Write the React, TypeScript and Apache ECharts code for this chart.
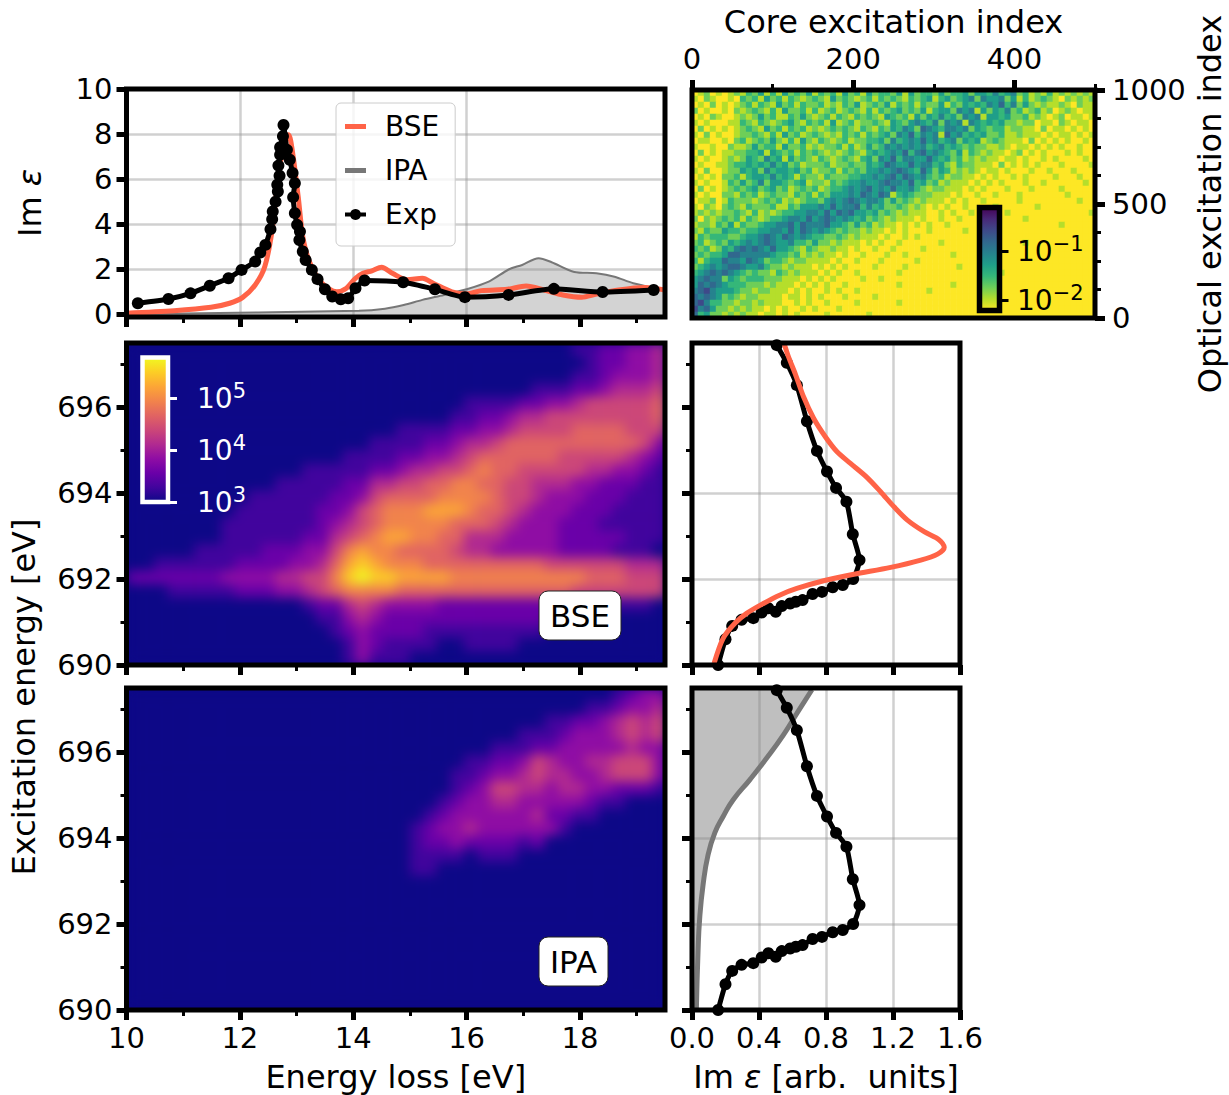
import React, { useEffect, useRef } from "react";
import * as echarts from "echarts";

const FONT = "DejaVu Sans";
const RED = "#ff6347";
const GREY = "#777777";
const GRIDC = "rgba(150,150,150,0.45)";
const PLASMA = ["#0d0887", "#41049d", "#6a00a8", "#8f0da4", "#b12a90", "#cc4778", "#e16462", "#f2844b", "#fca636", "#fcce25", "#f0f921"];
const VIRIDIS_R = ["#fde725", "#b5de2b", "#6ece58", "#35b779", "#1f9e89", "#26828e", "#31688e", "#3e4989", "#482878", "#440154"];

// Spectra: [energy loss, Im eps]
const expTop: number[][] = [[10.2,0.49],[10.74,0.68],[11.13,0.93],[11.47,1.27],[11.8,1.6],[12.03,1.97],[12.27,2.34],[12.36,2.74],[12.45,3.08],[12.54,3.78],[12.57,4.22],[12.58,4.56],[12.63,5.0],[12.67,5.45],[12.66,5.75],[12.7,6.15],[12.68,6.6],[12.71,7.08],[12.71,7.42],[12.76,7.9],[12.77,8.4],[12.83,7.3],[12.88,6.86],[12.93,6.27],[12.97,5.82],[12.94,5.2],[12.97,4.49],[13.01,3.97],[13.06,3.67],[13.05,3.3],[13.11,2.79],[13.16,2.41],[13.27,1.97],[13.37,1.56],[13.5,1.11],[13.63,0.79],[13.78,0.67],[13.91,0.71],[14.04,1.16],[14.2,1.5],[14.88,1.42],[15.44,1.11],[15.97,0.76],[16.74,0.86],[17.54,1.13],[18.4,0.99],[19.3,1.08]];
const bseTop: number[][] = [[10,0.05],[10.84,0.16],[11.49,0.31],[11.82,0.49],[12.05,0.75],[12.27,1.3],[12.44,2.12],[12.57,3.75],[12.67,5.97],[12.76,7.3],[12.86,7.97],[12.94,7.0],[13.03,5.2],[13.12,3.3],[13.25,2.2],[13.45,1.38],[13.71,1.0],[13.88,1.16],[14.04,1.6],[14.17,1.82],[14.33,1.93],[14.5,2.09],[14.69,1.82],[14.95,1.53],[15.22,1.6],[15.41,1.38],[15.74,1.0],[16,0.9],[16.26,1.05],[16.72,1.11],[17.05,1.26],[17.37,1.08],[17.7,0.86],[18.03,0.76],[18.29,0.9],[18.68,1.08],[19.14,1.19],[19.5,1.08]];
const ipaTop: number[][] = [[10,0.0],[14.1,0.16],[14.56,0.25],[14.89,0.41],[15.22,0.64],[15.6,0.86],[16,1.11],[16.39,1.45],[16.75,2.0],[16.98,2.19],[17.27,2.49],[17.5,2.31],[17.9,1.88],[18.29,1.82],[18.61,1.67],[18.94,1.38],[19.5,1.08]];

// Spectra: [Im eps, excitation energy]
const expSide: number[][] = [[0.156,690],[0.2,690.6],[0.24,690.91],[0.296,691.05],[0.366,691.09],[0.416,691.22],[0.456,691.32],[0.5,691.24],[0.536,691.37],[0.586,691.43],[0.62,691.47],[0.66,691.51],[0.72,691.65],[0.776,691.7],[0.84,691.81],[0.9,691.86],[0.962,692.0],[1.0,692.44],[0.96,693.04],[0.922,693.8],[0.86,694.12],[0.806,694.5],[0.746,694.98],[0.686,695.67],[0.626,696.51],[0.566,697.03],[0.506,697.44]];
const bseSide: number[][] = [[0.132,690.04],[0.186,690.62],[0.256,690.97],[0.326,691.2],[0.426,691.43],[0.526,691.63],[0.626,691.78],[0.786,691.96],[0.966,692.11],[1.186,692.27],[1.366,692.44],[1.466,692.58],[1.506,692.74],[1.476,692.91],[1.386,693.1],[1.286,693.37],[1.206,693.68],[1.126,694.03],[1.046,694.36],[0.946,694.69],[0.866,694.96],[0.796,695.31],[0.726,695.74],[0.666,696.24],[0.616,696.78],[0.576,697.17],[0.55,697.48]];
const ipaSide: number[][] = [[0.026,690],[0.036,691.36],[0.046,692.14],[0.066,692.91],[0.096,693.61],[0.136,694.12],[0.186,694.5],[0.246,694.89],[0.346,695.36],[0.446,695.86],[0.546,696.4],[0.626,696.9],[0.716,697.45]];

// Maps: one string per row, top row first; each character is a colour level on the log scale (a = 10).
const bseRows: string[] = [
"0000000000000000000000000000000001122334",
"0000000000000000000000000000000000122334",
"0000000000000000000000000000000001123334",
"0000000000000000000000000000001112234445",
"0000000000000000000000000111122334555556",
"0000000000000000000000001122344555555556",
"0000000000000000000011112233455556666555",
"0000000000000000001111223445666666666653",
"0000000000000000111122334566666655555432",
"0000000000000111112234455676655555443321",
"0000000000011111224455667766554443322211",
"0000000001111112235666677776554333222111",
"0000000011111122356777888766543332221111",
"0000000111111123456777776665433322211111",
"0000000111111224567887766444333322222111",
"0000011111222335787766665443333322221110",
"0011111122223346898777666666666555555444",
"22222223333445579a9988887777777777666555",
"0001111122233456777766666666666665555555",
"0000000000000122454333322222222222221110",
"0000000000000011343222222222222111100000",
"0000000000000001232222111111111000000000",
"0000000000000000132111100111100000000000",
"0000000000000000131110000000000000000000",
];
const ipaRows: string[] = [
"0000000000000000000000000000000000001233",
"0000000000000000000000000000000000112334",
"0000000000000000000000000000000112234545",
"0000000000000000000000000000011123334545",
"0000000000000000000000000001112233333433",
"0000000000000000000000000112235433445553",
"0000000000000000000000001123345443345553",
"0000000000000000000000001235544344332221",
"0000000000000000000000012334433333211000",
"0000000000000000000000123333334221100000",
"0000000000000000000001233433333310000000",
"0000000000000000000001223222212000000000",
"0000000000000000000001111011100000000000",
"0000000000000000000001100000000000000000",
"0000000000000000000000000000000000000000",
"0000000000000000000000000000000000000000",
"0000000000000000000000000000000000000000",
"0000000000000000000000000000000000000000",
"0000000000000000000000000000000000000000",
"0000000000000000000000000000000000000000",
"0000000000000000000000000000000000000000",
"0000000000000000000000000000000000000000",
"0000000000000000000000000000000000000000",
"0000000000000000000000000000000000000000",
];
const CORE_COLS = 67;
const coreRows: string[] = [
"0120101213241314232413231423142332414233242334244353452312131212121",
"1021001032314231321232142321231323213234134234525445241312321021212",
"0102010123132142313223121324123241323132241324343546352421211210211",
"2010010212321314223131231232131323423241344254514243523123120121011",
"0102100121242311324212313213232143231424353425451443422312101201101",
"1010001132132123421323141231223214324543525451543434221220110210110",
"0201010123214231323121232321321324354265435545243233122110201101010",
"1020100122321314231232121323132342546354516453434223112111010110101",
"0110010231232421314213212312233425345464534524341232111020101010010",
"1001002112423314223121223131242354545453453432322112101101010100100",
"0201011223341432313232121232134345463564543241321211012010100010100",
"1010012124325341423213212321342546355446434231212110110100101000010",
"0100112334343534231222312232243465446455342132211102010101000100001",
"1020012243425344342312231323244545654364243121210110100010010001000",
"0101022313443534313221322233445456465453231221101010010100001000100",
"1010013242352443234122132344544565546342312111010101000100100000010",
"0201012323423423123231233454564546445321221110101000100010000100000",
"1010022132312322132313244454654651343222111010010010001000000010000",
"0112013222123231212332454565455424232121110101001000001000000000100",
"1021023213222311324445464556353422321210101001000010000001000000000",
"1212122321312123344554646564434232121110010100100000100000000000001",
"2021232313212334554645654543423212111010010010000000000100000000000",
"1221324132234455646555644324231211010101001000001000000000000100000",
"2132243323344554646545432322121101010001000001000010000000000000000",
"1323332234456546545433223212111010010100000000000100000000000000000",
"2312324345456544533242212111010100100000010000000000000100000000000",
"3231243565654644321321121101001001000010000000000000000000000000000",
"2323346655555433231212110100100010010000000100000000000000000000000",
"3134465546542332122111101001000100000100000000000000000000000000000",
"2345456654453221211101010100001000010000000010000000000000000000000",
"3456565432322132121110101001000000100000000000000001000000000000000",
"4565524323332221110101010000100100000000000000000000000000000000000",
"4656543332221211101010100100000000100000000100000000000000000000000",
"5675444322122111010100101001000000000001000000000000000000000000000",
"6565423212211110110101000100001000000000000000000000000000000000000",
"6753322122121110010100100001000000100000000000000000000000000000000",
"7564221212110101001010001000000000000000000000000000000000000000000",
"6342212121101101010000100000010000000000000000000000000000000000000",
];

const cells = (rows: string[], nCols: number) =>
  rows.flatMap((row, r) => row.padEnd(nCols, "0").slice(0, nCols).split("").map((ch, c) => [c, r, parseInt(ch, 16)]));
const idx = (n: number) => Array.from({ length: n }, (_, i) => String(i));

// Panel rectangles
const P = {
  top: { left: 126.5, top: 89, width: 538.5, height: 228 },
  core: { left: 692, top: 90, width: 403, height: 228 },
  bse: { left: 126.5, top: 343, width: 538.5, height: 322 },
  ipa: { left: 126.5, top: 688, width: 538.5, height: 322 },
  sideB: { left: 692, top: 343, width: 268, height: 322 },
  sideI: { left: 692, top: 688, width: 268, height: 322 },
};
const grad = (cols: string[]) =>
  new echarts.graphic.LinearGradient(0, 1, 0, 0, cols.map((color, i) => ({ offset: i / (cols.length - 1), color })));

function heatOption(rows: string[]) {
  const n = rows[0].length;
  return {
    animation: false,
    grid: { left: 0, right: 0, top: 0, bottom: 0, outerBoundsMode: "none" },
    xAxis: { type: "category", data: idx(n), show: false },
    yAxis: { type: "category", data: idx(rows.length), show: false, inverse: true },
    visualMap: { show: false, min: 0, max: 10, dimension: 2, inRange: { color: PLASMA } },
    series: [{ type: "heatmap", data: cells(rows, n), progressive: 0, silent: true }],
  };
}

function buildOption() {
  const xAxis: any[] = [];
  const yAxis: any[] = [];
  const grid: any[] = [];
  const series: any[] = [];
  const tick = (v: number[], len: number, w: number, color = "#000") => ({ show: true, customValues: v, length: len, lineStyle: { width: w, color } });
  const labelStyle = { fontFamily: FONT, fontSize: 29, color: "#000" };
  const noLine = { show: false, onZero: false };

  function panel(rect: any, o: any) {
    const g = grid.length;
    grid.push({ show: true, ...rect, outerBoundsMode: "none", backgroundColor: "transparent", borderColor: "#000", borderWidth: 5, z: 5 });
    const xi = xAxis.length;
    const yi = yAxis.length;
    const base = (ax: any) => ({
      gridIndex: g, type: "value", min: ax.min, max: ax.max, position: ax.pos,
      axisLine: noLine,
      axisTick: tick(ax.major, 10, 5),
      axisLabel: ax.labels
        ? { ...labelStyle, customValues: ax.major, margin: ax.margin ?? 14, formatter: ax.fmt ?? ((v: number) => String(v)) }
        : { show: false },
      splitLine: ax.grid
        ? { show: true, lineStyle: { color: GRIDC, width: 2.5 }, showMinLine: false, showMaxLine: false }
        : { show: false },
      name: ax.name, nameLocation: "middle", nameGap: ax.nameGap, nameRotate: ax.nameRotate,
      nameTextStyle: { fontFamily: FONT, fontSize: 32, color: "#000", rich: { i: { fontFamily: FONT, fontSize: 32, fontStyle: "italic", color: "#000" } } },
    });
    const minorOf = (ax: any) => ({
      gridIndex: g, type: "value", min: ax.min, max: ax.max, position: ax.pos,
      axisLine: noLine, axisLabel: { show: false }, splitLine: { show: false },
      axisTick: tick(ax.minor, 6, 3),
    });
    xAxis.push(base(o.x));
    if (o.x.minor) xAxis.push(minorOf(o.x));
    yAxis.push(base(o.y));
    if (o.y.minor) yAxis.push(minorOf(o.y));
    return { g, xi, yi };
  }

  const majorE = [10, 12, 14, 16, 18];
  const minorE = [11, 13, 15, 17, 19];
  const majorB = [690, 692, 694, 696];
  const minorB = [691, 693, 695, 697];
  const majorI = [0, 0.4, 0.8, 1.2, 1.6];

  const a = panel(P.top, {
    x: { min: 10, max: 19.5, pos: "bottom", major: majorE, minor: minorE, grid: true },
    y: { min: -0.12, max: 10, pos: "left", major: [0, 2, 4, 6, 8, 10], labels: true, grid: true, name: "Im {i|ε}", nameGap: 81 },
  });
  const b = panel(P.core, {
    x: { min: 0, max: 500, pos: "top", major: [0, 200, 400], minor: [100, 300, 500], labels: true, margin: 17, name: "Core excitation index", nameGap: 52 },
    y: { min: 0, max: 1000, pos: "right", major: [0, 500, 1000], minor: [125, 250, 375, 625, 750, 875], labels: true, margin: 17, name: "Optical excitation index", nameGap: 99, nameRotate: 90 },
  });
  panel(P.bse, {
    x: { min: 10, max: 19.5, pos: "bottom", major: majorE, minor: minorE },
    y: { min: 690, max: 697.49, pos: "left", major: majorB, minor: minorB, labels: true },
  });
  panel(P.ipa, {
    x: { min: 10, max: 19.5, pos: "bottom", major: majorE, minor: minorE, labels: true, margin: 13, name: "Energy loss [eV]", nameGap: 51 },
    y: { min: 690, max: 697.49, pos: "left", major: majorB, minor: minorB, labels: true },
  });
  const e = panel(P.sideB, {
    x: { min: 0, max: 1.6, pos: "bottom", major: majorI, grid: true },
    y: { min: 690, max: 697.49, pos: "left", major: majorB, minor: minorB, grid: true },
  });
  const f = panel(P.sideI, {
    x: { min: 0, max: 1.6, pos: "bottom", major: majorI, grid: true, labels: true, margin: 13, fmt: (v: number) => v.toFixed(1), name: "Im {i|ε} [arb.  units]", nameGap: 51 },
    y: { min: 690, max: 697.49, pos: "left", major: majorB, minor: minorB, grid: true },
  });

  // Colour bars (axis + gradient)
  const rich = (color: string) => ({
    n: { fontFamily: FONT, fontSize: 28, color, lineHeight: 36 },
    s: { fontFamily: FONT, fontSize: 21, color, verticalAlign: "top", lineHeight: 20 },
  });
  function colorbar(rect: any, cols: string[], color: string, min: number, max: number, vals: number[], names: string[], margin: number, bw: number) {
    const g = grid.length;
    grid.push({ show: true, ...rect, outerBoundsMode: "none", backgroundColor: grad(cols), borderColor: color, borderWidth: bw, z: 10 });
    xAxis.push({ gridIndex: g, type: "value", show: false, min: 0, max: 1, axisLine: { onZero: false } });
    yAxis.push({
      gridIndex: g, type: "value", min, max, position: "right", z: 11,
      axisLine: noLine, splitLine: { show: false },
      axisTick: { show: true, customValues: vals, length: 9, lineStyle: { width: 3, color } },
      axisLabel: {
        customValues: vals, margin, align: "left", rich: rich(color),
        formatter: (v: number) => `{n|10}{s|${names[vals.indexOf(v)]}}`,
      },
    });
  }
  colorbar({ left: 142.5, top: 357.5, width: 25.5, height: 144.5 }, PLASMA, "#fff", 3, 5.78, [3, 4, 5], ["3", "4", "5"], 29, 4.5);
  colorbar({ left: 979.5, top: 207.5, width: 20, height: 103 }, VIRIDIS_R, "#000", -2.217, -0.085, [-2, -1], ["−2", "−1"], 17.5, 5.5);

  // Core-optical map: hidden category axes on the same grid
  const catX = xAxis.length;
  const catY = yAxis.length;
  xAxis.push({ gridIndex: b.g, type: "category", show: false, axisLine: { onZero: false }, data: idx(CORE_COLS) });
  yAxis.push({ gridIndex: b.g, type: "category", show: false, axisLine: { onZero: false }, inverse: true, data: idx(coreRows.length) });
  const heatIndex = series.length;
  series.push({ type: "heatmap", name: "core", xAxisIndex: catX, yAxisIndex: catY, data: cells(coreRows, CORE_COLS), progressive: 0, silent: true, z: 2 });

  // Top panel
  series.push({ type: "line", name: "BSE", xAxisIndex: a.xi, yAxisIndex: a.yi, data: bseTop, smooth: 0.3, symbol: "none", lineStyle: { color: RED, width: 5 }, itemStyle: { color: RED }, z: 3, silent: true });
  series.push({ type: "line", name: "IPA", xAxisIndex: a.xi, yAxisIndex: a.yi, data: ipaTop, smooth: 0.3, symbol: "none", lineStyle: { color: GREY, width: 2 }, itemStyle: { color: GREY }, areaStyle: { color: "rgba(128,128,128,0.5)", origin: "start" }, z: 2, silent: true });
  series.push({ type: "line", name: "Exp", xAxisIndex: a.xi, yAxisIndex: a.yi, data: expTop, smooth: 0.2, symbol: "circle", symbolSize: 12, showSymbol: true, showAllSymbol: true, lineStyle: { color: "#000", width: 5 }, itemStyle: { color: "#000" }, z: 4, silent: true });

  // Side panels
  series.push({ type: "line", name: "Exp profile BSE", xAxisIndex: e.xi, yAxisIndex: e.yi, data: expSide, smooth: 0.2, symbol: "circle", symbolSize: 12, showAllSymbol: true, lineStyle: { color: "#000", width: 5 }, itemStyle: { color: "#000" }, z: 3, silent: true });
  series.push({ type: "line", name: "BSE profile", xAxisIndex: e.xi, yAxisIndex: e.yi, data: bseSide, smooth: 0.3, symbol: "none", lineStyle: { color: RED, width: 5 }, z: 4, silent: true });
  series.push({
    type: "custom", name: "IPA fill", xAxisIndex: f.xi, yAxisIndex: f.yi, data: ipaSide, z: 2, silent: true, clip: true,
    encode: { x: 0, y: 1 },
    renderItem: (p: any, api: any) => {
      if (p.dataIndex !== 0) return null;
      const pts = ipaSide.map((q) => api.coord(q));
      pts.push(api.coord([0, ipaSide[ipaSide.length - 1][1]]), api.coord([0, ipaSide[0][1]]));
      return { type: "polygon", shape: { points: pts }, style: { fill: "rgba(128,128,128,0.5)" } };
    },
  });
  series.push({ type: "line", name: "IPA profile", xAxisIndex: f.xi, yAxisIndex: f.yi, data: ipaSide, smooth: 0.5, symbol: "none", lineStyle: { color: GREY, width: 5 }, z: 3, silent: true });
  series.push({ type: "line", name: "Exp profile IPA", xAxisIndex: f.xi, yAxisIndex: f.yi, data: expSide, smooth: 0.2, symbol: "circle", symbolSize: 12, showAllSymbol: true, lineStyle: { color: "#000", width: 5 }, itemStyle: { color: "#000" }, z: 4, silent: true });

  const badge = (x: number, y: number, w: number, h: number, label: string) => ({
    type: "group", z: 12, children: [
      { type: "rect", x, y, shape: { width: w, height: h, r: 9 }, style: { fill: "#fff", stroke: "#222", lineWidth: 1 } },
      { type: "text", x: x + w / 2, y: y + h / 2, style: { text: label, align: "center", verticalAlign: "middle", fontFamily: FONT, fontSize: 31, fill: "#000" } },
    ],
  });

  const barIcon = "path://M0 0h.01v.01h-.01zM0 16h.01v.01h-.01zM0 5.5h21v5h-21z";
  const dotIcon = "path://M0 0h.01v.01h-.01zM0 16h.01v.01h-.01zM0 6h21v4h-21zM10.5 13.5a5.5 5.5 0 1 1 .01 0z";

  return {
    animation: false,
    backgroundColor: "transparent",
    grid, xAxis, yAxis, series,
    visualMap: { show: false, seriesIndex: heatIndex, min: 0, max: 9, dimension: 2, inRange: { color: VIRIDIS_R } },
    legend: {
      data: [
        { name: "BSE", icon: barIcon, itemStyle: { color: RED } },
        { name: "IPA", icon: barIcon, itemStyle: { color: GREY } },
        { name: "Exp", icon: dotIcon, itemStyle: { color: "#000" } },
      ],
      orient: "vertical", left: 336, top: 103, z: 6,
      backgroundColor: "rgba(255,255,255,0.8)", borderColor: "#ccc", borderWidth: 1, borderRadius: 5,
      padding: [8, 16, 16, 9], itemGap: 13, itemWidth: 21, itemHeight: 16, selectedMode: false,
      textStyle: { fontFamily: FONT, fontSize: 28, color: "#000", padding: [0, 0, 0, 14], lineHeight: 31 },
    },
    graphic: [
      { type: "text", x: 24, y: 697, rotation: Math.PI / 2, z: 12, style: { text: "Excitation energy [eV]", align: "center", verticalAlign: "middle", fontFamily: FONT, fontSize: 32, fill: "#000" } },
      badge(539, 591, 82, 49, "BSE"),
      badge(539, 937, 69, 49, "IPA"),
    ],
  };
}

export default function App() {
  const mainRef = useRef<HTMLDivElement>(null);
  const bseRef = useRef<HTMLDivElement>(null);
  const ipaRef = useRef<HTMLDivElement>(null);
  useEffect(() => {
    const bse = echarts.init(bseRef.current!, undefined, { renderer: "svg" });
    const ipa = echarts.init(ipaRef.current!, undefined, { renderer: "svg" });
    const main = echarts.init(mainRef.current!, undefined, { renderer: "svg" });
    bse.setOption(heatOption(bseRows) as any);
    ipa.setOption(heatOption(ipaRows) as any);
    main.setOption(buildOption() as any);
    return () => { bse.dispose(); ipa.dispose(); main.dispose(); };
  }, []);
  const layer = (r: any, ref: any) => (
    <div style={{ position: "absolute", left: r.left, top: r.top, width: r.width, height: r.height, overflow: "hidden", background: PLASMA[0] }}>
      <div ref={ref} style={{ width: r.width, height: r.height, filter: "blur(6px)" }} />
    </div>
  );
  return (
    <div style={{ position: "absolute", left: 0, top: 0, width: 1229, height: 1095, background: "#fff", overflow: "hidden" }}>
      {layer(P.bse, bseRef)}
      {layer(P.ipa, ipaRef)}
      <div ref={mainRef} style={{ position: "absolute", left: 0, top: 0, width: 1229, height: 1095 }} />
    </div>
  );
}
